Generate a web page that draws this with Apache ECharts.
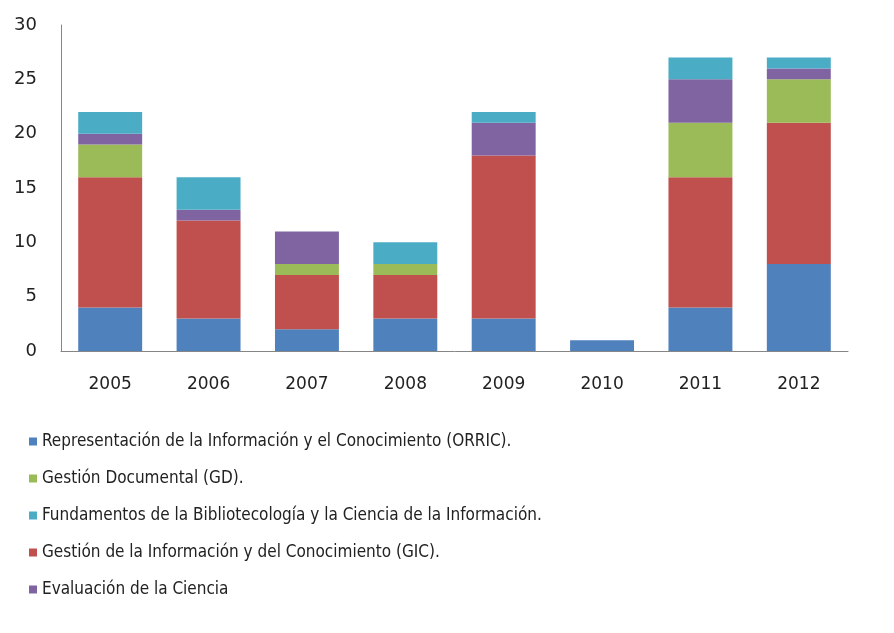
<!DOCTYPE html>
<html>
<head>
<meta charset="utf-8">
<script src="https://cdn.jsdelivr.net/npm/echarts@6/dist/echarts.min.js"></script>
<style>
  html, body { margin: 0; padding: 0; background: #fff; }
  #chart { width: 894px; height: 633px; }
</style>
</head>
<body>
<div id="chart"></div>
<script>
// categorias (años)
const years = ['2005', '2006', '2007', '2008', '2009', '2010', '2011', '2012'];

// valores por línea temática
const orric = [4, 3, 2, 3, 3, 1, 4, 8];
const gic = [12, 9, 5, 4, 15, 0, 12, 13];
const gd = [3, 0, 1, 1, 0, 0, 5, 4];
const evaluacion = [1, 1, 3, 0, 3, 0, 4, 1];
const fundamentos = [2, 3, 0, 2, 1, 0, 2, 1];

const names = {
  orric: 'Representación de la Información y el Conocimiento (ORRIC).',
  gd: 'Gestión Documental (GD).',
  fundamentos: 'Fundamentos de la Bibliotecología y la Ciencia de la Información.',
  gic: 'Gestión de la Información y del Conocimiento (GIC).',
  evaluacion: 'Evaluación de la Ciencia'
};

const chart = echarts.init(document.getElementById('chart'));

const barSeries = (name, data, color) => ({
  name: name,
  type: 'bar',
  stack: 'total',
  barWidth: '65%',
  itemStyle: { color: color },
  data: data
});

chart.setOption({
  animation: false,
  backgroundColor: '#fff',
  grid: {
    left: 61,
    right: 46,
    top: 25,
    bottom: 282
  },
  legend: {
    orient: 'vertical',
    left: 24,
    top: 428,
    itemGap: 20,
    itemWidth: 8,
    itemHeight: 8,
    icon: 'rect',
    textStyle: {
      fontFamily: 'DejaVu Sans Condensed',
      fontSize: 17,
      color: '#222'
    },
    data: [names.orric, names.gd, names.fundamentos, names.gic, names.evaluacion]
  },
  xAxis: {
    type: 'category',
    data: years,
    axisLine: { lineStyle: { color: '#868686' } },
    axisTick: { show: false },
    axisLabel: {
      margin: 25,
      fontFamily: 'DejaVu Sans',
      fontSize: 17,
      color: '#222'
    }
  },
  yAxis: {
    type: 'value',
    min: 0,
    max: 30,
    interval: 5,
    axisLine: { show: true, lineStyle: { color: '#868686' } },
    axisTick: { show: false },
    splitLine: { show: false },
    axisLabel: {
      margin: 24,
      fontFamily: 'DejaVu Sans',
      fontSize: 18,
      color: '#222'
    }
  },
  series: [
    barSeries(names.orric, orric, '#4F81BD'),
    barSeries(names.gic, gic, '#C0504D'),
    barSeries(names.gd, gd, '#9BBB59'),
    barSeries(names.evaluacion, evaluacion, '#8064A2'),
    barSeries(names.fundamentos, fundamentos, '#4BACC6')
  ]
});
</script>
</body>
</html>
